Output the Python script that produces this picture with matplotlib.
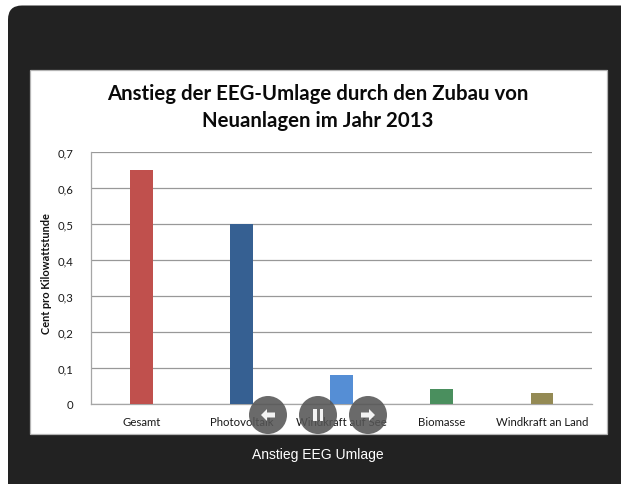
import matplotlib
matplotlib.use("Agg")
import matplotlib.pyplot as plt
from matplotlib.patches import FancyBboxPatch, Rectangle, Circle, Polygon

categories = ["Gesamt", "Photovoltaik", "Windkraft auf See", "Biomasse", "Windkraft an Land"]
values = [0.65, 0.50, 0.08, 0.04, 0.03]
bar_colors = ["#C0504D", "#366092", "#558ED5", "#4A8F5E", "#948A54"]
y_ticks = [0, 0.1, 0.2, 0.3, 0.4, 0.5, 0.6, 0.7]
y_labels = ["0", "0,1", "0,2", "0,3", "0,4", "0,5", "0,6", "0,7"]
title = "Anstieg der EEG-Umlage durch den Zubau von\nNeuanlagen im Jahr 2013"
y_title = "Cent pro Kilowattstunde"
caption = "Anstieg EEG Umlage"

W, H = 621, 485
fig = plt.figure(figsize=(W / 100, H / 100), dpi=100, facecolor="white")

# Pixel-space layer for the surrounding slideshow frame
bg = fig.add_axes([0, 0, 1, 1], zorder=0)
bg.set_xlim(0, W); bg.set_ylim(H, 0); bg.axis("off")
bg.add_patch(FancyBboxPatch((8 + 14, 6.5 + 14), W + 40, H + 40,
                            boxstyle="round,pad=14,rounding_size=14",
                            fc="#222222", ec="none"))
bg.add_patch(Rectangle((29.5, 70.5), 577, 364, fc="white", ec="#B4B4B4", lw=0.9))
bg.text(318, 455.5, caption, color="white", ha="center", va="center",
        fontsize=10, family="Liberation Sans")
bg.text(317.5, 107.5, title, color="#0A0A0A", ha="center", va="center", fontsize=14.7,
        fontweight="bold", family="Lato", linespacing=1.4)
bg.text(47, 273.5, y_title, color="#111111", rotation=90, ha="center", va="center",
        fontsize=7.9, fontweight="bold", family="Lato")

# Chart
left, right, top, bottom = 91.5, 592, 153, 404.5
ax = fig.add_axes([left / W, 1 - bottom / H, (right - left) / W, (bottom - top) / H], zorder=1)
ax.patch.set_alpha(0)
x = list(range(len(categories)))
ax.bar(x, values, width=0.227, color=bar_colors, zorder=3)
ax.set_xlim(-0.5, 4.5)
ax.set_ylim(0, 0.7)
ax.set_xticks(x, categories)
ax.set_yticks(y_ticks, y_labels)
ax.grid(axis="y", color="#989898", lw=0.9, zorder=1)
ax.set_axisbelow(True)
for s in ["top", "right"]:
    ax.spines[s].set_visible(False)
for s in ["left", "bottom"]:
    ax.spines[s].set_color("#A6A6A6")
    ax.spines[s].set_linewidth(0.9)
ax.tick_params(axis="both", length=0, labelcolor="#1A1A1A", labelsize=8.2)
ax.tick_params(axis="x", pad=9)
ax.tick_params(axis="y", pad=13)
for t in ax.get_xticklabels() + ax.get_yticklabels():
    t.set_family("Lato")

# Slideshow buttons, drawn over the chart
fg = fig.add_axes([0, 0, 1, 1], zorder=2)
fg.set_xlim(0, W); fg.set_ylim(H, 0); fg.axis("off"); fg.patch.set_alpha(0)
for cx in (268, 318, 368):
    fg.add_patch(Circle((cx, 416), 19, fc="#555555", ec="none", alpha=0.88))
# left arrow
cx = 268
fg.add_patch(Polygon([(cx - 7, 416), (cx - 1, 410), (cx - 1, 413.5), (cx + 7, 413.5),
                      (cx + 7, 418.5), (cx - 1, 418.5), (cx - 1, 422)], fc="#F2F2F2", ec="none"))
# pause
fg.add_patch(Rectangle((313, 410), 3.5, 12, fc="#F2F2F2", ec="none"))
fg.add_patch(Rectangle((319.5, 410), 3.5, 12, fc="#F2F2F2", ec="none"))
# right arrow
cx = 368
fg.add_patch(Polygon([(cx + 7, 416), (cx + 1, 410), (cx + 1, 413.5), (cx - 7, 413.5),
                      (cx - 7, 418.5), (cx + 1, 418.5), (cx + 1, 422)], fc="#F2F2F2", ec="none"))

fig.savefig("out.png", dpi=100)
